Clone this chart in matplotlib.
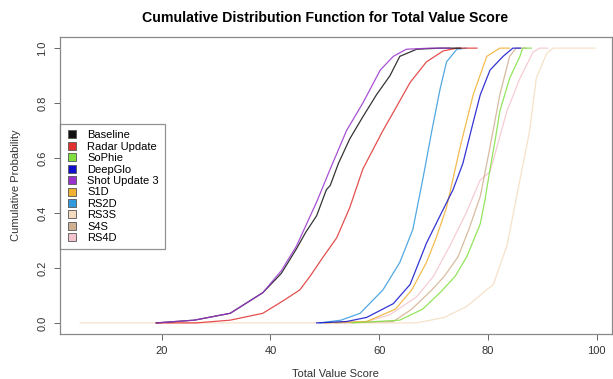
import matplotlib.pyplot as plt
from matplotlib.lines import Line2D

plt.rcParams['font.family'] = ['Liberation Sans', 'DejaVu Sans']

# CDF points (score, cumulative probability)
baseline_x = [19, 26, 32.6, 38.6, 42, 44.8, 46.5, 48.5, 50.3, 51, 52.5, 54.6, 57, 59.5, 62, 63.8, 66.9, 71.2, 75]
baseline_y = [0, 0.01, 0.035, 0.11, 0.18, 0.27, 0.33, 0.39, 0.485, 0.50, 0.58, 0.67, 0.75, 0.83, 0.90, 0.97, 0.996, 1.0, 1.0]

radar_x = [19, 26.4, 32.6, 38.6, 42.3, 45.4, 47.3, 49.7, 52.2, 54.6, 57, 60.7, 63, 65.7, 68.7, 71.8, 74.3, 78]
radar_y = [0, 0.0, 0.01, 0.035, 0.08, 0.12, 0.17, 0.24, 0.31, 0.42, 0.56, 0.70, 0.78, 0.875, 0.95, 0.99, 1.0, 1.0]

sophie_x = [55, 63.8, 68, 71.2, 74, 76.1, 78.6, 79.5, 80.4, 81.3, 82.2, 84, 85.9, 86.4, 88]
sophie_y = [0, 0.01, 0.05, 0.11, 0.17, 0.24, 0.36, 0.45, 0.56, 0.66, 0.77, 0.89, 0.97, 1.0, 1.0]

deepglo_x = [48.5, 54, 57.7, 62.6, 65.7, 68.7, 71.2, 73.6, 75.4, 77.3, 78.6, 80.4, 82.8, 84.6, 86]
deepglo_y = [0, 0.005, 0.02, 0.07, 0.14, 0.29, 0.39, 0.485, 0.58, 0.73, 0.83, 0.92, 0.97, 1.0, 1.0]

shot_x = [19, 26, 32.6, 38.6, 42, 44.8, 48.5, 51, 54, 57, 60.2, 62.6, 65, 69.4, 73]
shot_y = [0, 0.01, 0.035, 0.11, 0.19, 0.28, 0.44, 0.56, 0.70, 0.80, 0.92, 0.97, 0.996, 1.0, 1.0]

s1d_x = [50, 57.7, 63, 66, 68.7, 70.5, 72.4, 74.9, 77.3, 79.8, 82.2, 84]
s1d_y = [0, 0.005, 0.05, 0.12, 0.22, 0.31, 0.42, 0.64, 0.83, 0.97, 1.0, 1.0]

rs2d_x = [49.1, 53, 56.5, 60.7, 63.8, 66.2, 68.1, 69.7, 71.2, 72.4, 74.3, 76]
rs2d_y = [0, 0.01, 0.035, 0.12, 0.22, 0.34, 0.53, 0.70, 0.85, 0.95, 0.996, 1.0]

rs3s_x = [5, 40, 66.9, 72, 76.1, 81, 83.5, 85.9, 87.7, 88.9, 90.8, 92, 99.7]
rs3s_y = [0, 0, 0, 0.02, 0.06, 0.14, 0.28, 0.52, 0.70, 0.89, 0.98, 1.0, 1.0]

s4s_x = [52, 62.6, 66, 69.7, 72, 74.5, 76.5, 78.6, 80.4, 82.2, 84, 85.2, 87]
s4s_y = [0, 0.005, 0.05, 0.12, 0.17, 0.24, 0.34, 0.46, 0.64, 0.83, 0.97, 1.0, 1.0]

rs4d_x = [50, 57.7, 62, 66.9, 70, 73, 76, 78.6, 80.4, 83.5, 85.9, 88.3, 89.5, 91]
rs4d_y = [0, 0.005, 0.03, 0.095, 0.17, 0.28, 0.40, 0.52, 0.55, 0.77, 0.89, 0.985, 1.0, 1.0]

labels = ['Baseline', 'Radar Update', 'SoPhie', 'DeepGlo', 'Shot Update 3',
          'S1D', 'RS2D', 'RS3S', 'S4S', 'RS4D']
colors = ['#111111', '#e03030', '#80e040', '#1010cc', '#9933cc',
          '#f0b030', '#3399dd', '#f5dcc0', '#d0b090', '#f4c4cc']

series = [(baseline_x, baseline_y), (radar_x, radar_y), (sophie_x, sophie_y),
          (deepglo_x, deepglo_y), (shot_x, shot_y), (s1d_x, s1d_y),
          (rs2d_x, rs2d_y), (rs3s_x, rs3s_y), (s4s_x, s4s_y), (rs4d_x, rs4d_y)]

fig = plt.figure(figsize=(6.13, 3.79), dpi=100)
ax = fig.add_axes([0.098, 0.119, 0.900, 0.783])

# draw the light ones first so the dark ones sit on top
order = [7, 9, 8, 5, 2, 6, 3, 1, 0, 4]
for i in order:
    xs, ys = series[i]
    ax.plot(xs, ys, color=colors[i], linewidth=0.9, alpha=0.85)

ax.set_xlim(1.3, 102.8)
ax.set_ylim(-0.04, 1.04)
ax.set_xticks([20, 40, 60, 80, 100])
ax.set_yticks([0.0, 0.2, 0.4, 0.6, 0.8, 1.0])
ax.set_yticklabels(['0.0', '0.2', '0.4', '0.6', '0.8', '1.0'], rotation=90, va='center')
ax.tick_params(direction='out', length=4, width=0.7, colors='#666666',
               labelsize=8, labelcolor='#333333', pad=5)
for sp in ax.spines.values():
    sp.set_color('#888888')
    sp.set_linewidth(0.9)

ax.set_title('Cumulative Distribution Function for Total Value Score',
             fontsize=10.2, fontweight='bold', pad=11, x=0.48)
ax.set_xlabel('Total Value Score', fontsize=8, color='#333333', labelpad=9)
ax.set_ylabel('Cumulative Probability', fontsize=8, color='#333333', labelpad=12)

handles = [Line2D([], [], linestyle='none', marker='s', markersize=6,
                  markerfacecolor=c, markeredgecolor='#555555', markeredgewidth=0.6)
           for c in colors]
leg = ax.legend(handles, labels, loc='upper left', bbox_to_anchor=(0, 0.707),
                borderaxespad=0, fontsize=8, frameon=True, fancybox=False,
                handlelength=1.0, handletextpad=0.9, labelspacing=0.13,
                borderpad=0.55)
leg.get_frame().set_edgecolor('#777777')
leg.get_frame().set_linewidth(0.9)

fig.savefig('out.png', dpi=100)
